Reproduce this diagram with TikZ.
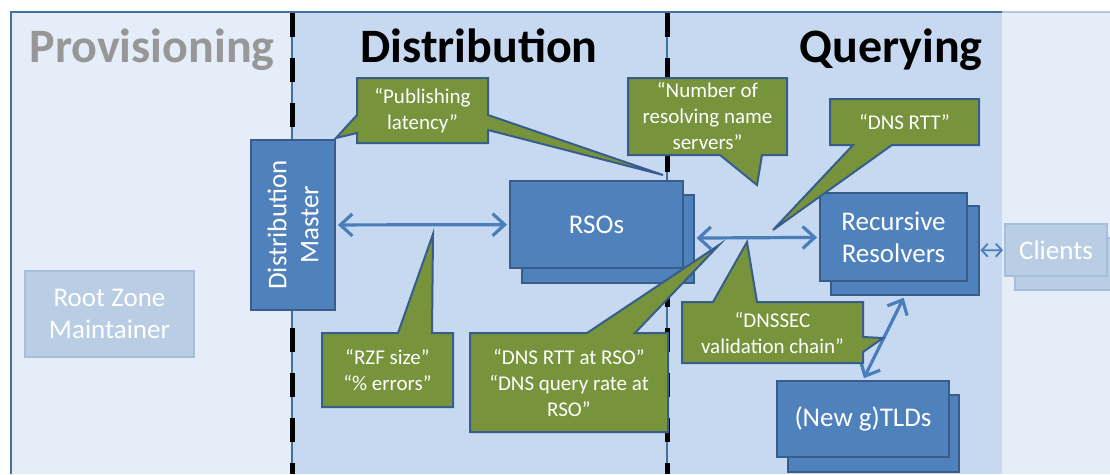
\documentclass[tikz,border=0pt]{standalone}
\usepackage{fontspec}
\setmainfont{Carlito}
\usetikzlibrary{arrows.meta}
\definecolor{paneLight}{HTML}{E4EDF8}
\definecolor{paneMid}{HTML}{C6D9F1}
\definecolor{edgeBlue}{HTML}{41719C}
\definecolor{edgeFaint}{HTML}{B3C6DE}
\definecolor{boxBlue}{HTML}{4F81BD}
\definecolor{boxEdge}{HTML}{385D8A}
\definecolor{fadeBlue}{HTML}{B9CDE5}
\definecolor{fadeEdge}{HTML}{A7BEDB}
\definecolor{calloutGreen}{HTML}{77933C}
\definecolor{arrowBlue}{HTML}{4A7EBB}
\definecolor{titleGray}{HTML}{979797}
\begin{document}
\begin{tikzpicture}[x=1pt,y=-1pt,
  entity/.style={draw=boxEdge, fill=boxBlue, line width=2pt, text=white,
    align=center, inner sep=0pt, font=\fontsize{27}{32}\selectfont},
  faded/.style={entity, draw=fadeEdge, fill=fadeBlue},
  callout/.style={fill=calloutGreen, draw=boxEdge, line width=2pt, line join=miter},
  note/.style={text=white, align=center, inner sep=0pt, font=\fontsize{21}{26}\selectfont},
  title/.style={anchor=base, inner sep=0pt, font=\fontsize{48}{52}\selectfont\bfseries},
  divider/.style={draw=black, line width=5pt, dash pattern=on 24pt off 21pt},
  arr/.style={draw=arrowBlue, line width=3.2pt, shorten <=2pt, shorten >=2pt,
    arrows={Straight Barb[length=12pt,width=22pt]-Straight Barb[length=12pt,width=22pt]}},
  thinarr/.style={draw=arrowBlue, line width=1.8pt, shorten <=1pt, shorten >=1pt,
    arrows={Straight Barb[length=6pt,width=13pt]-Straight Barb[length=6pt,width=13pt]}}]
\useasboundingbox (0,0) rectangle (1110,474);
\clip (0,0) rectangle (1110,474);

% stage panels
\fill[white] (0,0) rectangle (1110,474);
\fill[paneLight] (11,12) rectangle (1110,474);
\fill[paneMid] (292,12) rectangle (1002,474);
\draw[edgeFaint, line width=1.5pt] (1002,12) -- (1110,12);
\draw[edgeBlue, line width=1.5pt] (11,474) -- (11,12) -- (1002,12);
\draw[edgeBlue, line width=1.5pt] (292,12) -- (292,474);
\draw[edgeBlue, line width=1.5pt] (667,12) -- (667,474);
\draw[divider] (292,13) -- (292,474);
\draw[divider] (667,13) -- (667,474);

% stage titles
\node[title, text=titleGray] (tprov) at (152,62) {Provisioning};
\node[title] (tdist) at (479,62) {Distribution};
\node[title] (tquery) at (891,62) {Querying};

% actors
\node[faded, minimum width=169pt, minimum height=86pt] (rzm) at (109.5,314) {Root Zone\\Maintainer};
\node[entity, rotate=90, minimum width=170pt, minimum height=84pt] (dm) at (293,225) {Distribution\\Master};
\node[entity, minimum width=172pt, minimum height=88pt] (rsoback) at (607.5,238.5) {};
\node[entity, minimum width=173pt, minimum height=87pt] (rso) at (596.5,224.5) {RSOs};
\node[entity, minimum width=148pt, minimum height=89pt] (recback) at (904.5,250.5) {};
\node[entity, minimum width=147pt, minimum height=88pt] (rec) at (893.5,237) {Recursive\\Resolvers};
\node[entity, minimum width=171pt, minimum height=77pt] (tldback) at (873.5,433.5) {};
\node[entity, minimum width=172pt, minimum height=76pt] (tld) at (863,419) {(New g)TLDs};
\node[faded, minimum width=102pt, minimum height=52pt] (cliback) at (1066,263.5) {};
\node[faded, minimum width=102pt, minimum height=52pt] (cli) at (1056,250) {Clients};

% exchanges
\draw[arr] (dm) -- (rso);
\draw[arr] (rsoback) -- (rec);
\draw[thinarr] (recback) -- (cli);
\draw[arr] (recback.south) -- (tld.north);

% measurement callouts
\draw[callout] (357,78) -- (488,78) -- (488,115) -- (663,175) -- (488,130) -- (488,143)
  -- (357,143) -- (357,133) -- (336,138) -- (357,115) -- cycle;
\node[note] (cpub) at (422.5,110.5) {“Publishing\\latency”};

\draw[callout] (628,78) -- (787,78) -- (787,155) -- (762,155) -- (757,185) -- (720,155)
  -- (628,155) -- cycle;
\node[note] (cnum) at (707.5,116.5) {“Number of\\resolving name\\servers”};

\draw[callout] (830,99) -- (979,99) -- (979,145) -- (892,145) -- (773,230) -- (853,145)
  -- (830,145) -- cycle;
\node[note] (crtt) at (904.5,122) {“DNS RTT”};

\draw[callout] (322,333) -- (398,333) -- (433,234) -- (432,333) -- (453,333) -- (453,407)
  -- (322,407) -- cycle;
\node[note] (crzf) at (387.5,370) {“RZF size”\\“\% errors”};

\draw[callout] (470,333) -- (587,333) -- (719,245) -- (635,333) -- (668,333) -- (668,432)
  -- (470,432) -- cycle;
\node[note] (crso) at (569,382.5) {“DNS RTT at RSO”\\“DNS query rate at\\RSO”};

\draw[callout] (682,302) -- (713,302) -- (747,242) -- (757,302) -- (863,302) -- (863,337)
  -- (883,338) -- (863,352) -- (863,363) -- (682,363) -- cycle;
\node[note] (csec) at (772.5,332.5) {“DNSSEC\\validation chain”};
\end{tikzpicture}
\end{document}
